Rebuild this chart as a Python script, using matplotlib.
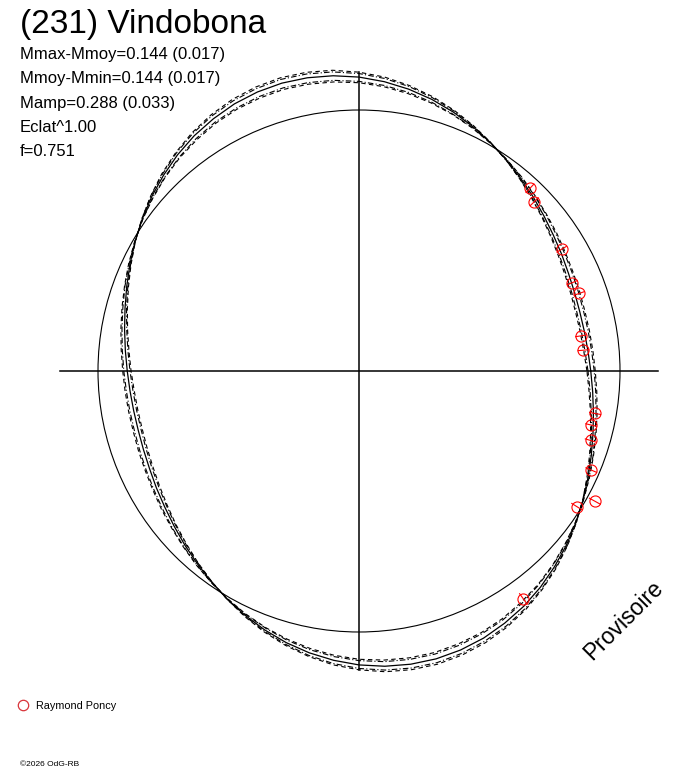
import numpy as np
import matplotlib.pyplot as plt
from matplotlib.patches import Circle

plt.rcParams['font.family'] = ['Liberation Sans', 'DejaVu Sans']

titulo = '(231) Vindobona'
lineas_info = ['Mmax-Mmoy=0.144 (0.017)',
               'Mmoy-Mmin=0.144 (0.017)',
               'Mamp=0.288 (0.033)',
               'Eclat^1.00',
               'f=0.751']
observador = 'Raymond Poncy'
marca = 'Provisoire'
copyright_txt = '\u00a92026 OdG-RB'

# courbe ajustee: angle = phase (deg, pas de 5), ecart en magnitude
fase_curva = np.arange(0, 360, 5)
dm_ajuste = [-0.129, -0.138, -0.143, -0.144, -0.140, -0.132, -0.119, -0.104, -0.085, -0.063, -0.040, -0.015,
             0.010, 0.035, 0.059, 0.081, 0.100, 0.116, 0.129, 0.138, 0.143, 0.144, 0.140, 0.132,
             0.119, 0.104, 0.085, 0.063, 0.040, 0.015, -0.010, -0.035, -0.059, -0.081, -0.100, -0.116,
             -0.129, -0.138, -0.143, -0.144, -0.140, -0.132, -0.119, -0.104, -0.085, -0.063, -0.040, -0.015,
             0.010, 0.035, 0.059, 0.081, 0.100, 0.116, 0.129, 0.138, 0.143, 0.144, 0.140, 0.132,
             0.119, 0.104, 0.085, 0.063, 0.040, 0.015, -0.010, -0.035, -0.059, -0.081, -0.100, -0.116]
dm_ext_a = [-0.147, -0.158, -0.163, -0.164, -0.159, -0.150, -0.136, -0.118, -0.096, -0.072, -0.045, -0.017,
            0.011, 0.040, 0.067, 0.092, 0.114, 0.133, 0.147, 0.158, 0.163, 0.164, 0.159, 0.150,
            0.136, 0.118, 0.096, 0.072, 0.045, 0.017, -0.011, -0.040, -0.067, -0.092, -0.114, -0.133,
            -0.147, -0.158, -0.163, -0.164, -0.159, -0.150, -0.136, -0.118, -0.096, -0.072, -0.045, -0.017,
            0.011, 0.040, 0.067, 0.092, 0.114, 0.133, 0.147, 0.158, 0.163, 0.164, 0.159, 0.150,
            0.136, 0.118, 0.096, 0.072, 0.045, 0.017, -0.011, -0.040, -0.067, -0.092, -0.114, -0.133]
dm_ext_b = [-0.142, -0.152, -0.157, -0.158, -0.153, -0.144, -0.131, -0.114, -0.093, -0.069, -0.044, -0.017,
            0.011, 0.038, 0.064, 0.088, 0.110, 0.128, 0.142, 0.152, 0.157, 0.158, 0.153, 0.144,
            0.131, 0.114, 0.093, 0.069, 0.044, 0.017, -0.011, -0.038, -0.064, -0.088, -0.110, -0.128,
            -0.142, -0.152, -0.157, -0.158, -0.153, -0.144, -0.131, -0.114, -0.093, -0.069, -0.044, -0.017,
            0.011, 0.038, 0.064, 0.088, 0.110, 0.128, 0.142, 0.152, 0.157, 0.158, 0.153, 0.144,
            0.131, 0.114, 0.093, 0.069, 0.044, 0.017, -0.011, -0.038, -0.064, -0.088, -0.110, -0.128]
dm_int_b = [-0.113, -0.121, -0.125, -0.126, -0.122, -0.115, -0.105, -0.091, -0.074, -0.055, -0.035, -0.013,
            0.009, 0.031, 0.051, 0.071, 0.088, 0.102, 0.113, 0.121, 0.125, 0.126, 0.122, 0.115,
            0.105, 0.091, 0.074, 0.055, 0.035, 0.013, -0.009, -0.031, -0.051, -0.071, -0.088, -0.102,
            -0.113, -0.121, -0.125, -0.126, -0.122, -0.115, -0.105, -0.091, -0.074, -0.055, -0.035, -0.013,
            0.009, 0.031, 0.051, 0.071, 0.088, 0.102, 0.113, 0.121, 0.125, 0.126, 0.122, 0.115,
            0.105, 0.091, 0.074, 0.055, 0.035, 0.013, -0.009, -0.031, -0.051, -0.071, -0.088, -0.102]
dm_int_a = [-0.108, -0.115, -0.119, -0.120, -0.116, -0.110, -0.100, -0.086, -0.071, -0.053, -0.033, -0.013,
            0.008, 0.029, 0.049, 0.067, 0.083, 0.097, 0.108, 0.115, 0.119, 0.120, 0.116, 0.110,
            0.100, 0.086, 0.071, 0.053, 0.033, 0.013, -0.008, -0.029, -0.049, -0.067, -0.083, -0.097,
            -0.108, -0.115, -0.119, -0.120, -0.116, -0.110, -0.100, -0.086, -0.071, -0.053, -0.033, -0.013,
            0.008, 0.029, 0.049, 0.067, 0.083, 0.097, 0.108, 0.115, 0.119, 0.120, 0.116, 0.110,
            0.100, 0.086, 0.071, 0.053, 0.033, 0.013, -0.008, -0.029, -0.049, -0.067, -0.083, -0.097]

# observations (Raymond Poncy)
fase_obs = [46.9, 44.0, 31.0, 22.5, 19.4, 9.0, 5.3, -10.2, -13.1, -16.7, -23.1, -31.9, -28.9, -54.2]
dm_obs = [-0.046, -0.075, -0.108, -0.133, -0.121, -0.164, -0.160, -0.092, -0.099, -0.083,
          -0.036, -0.019, 0.034, 0.080]
err_obs = [0.025, 0.025, 0.025, 0.025, 0.025, 0.025, 0.025, 0.025, 0.025, 0.025,
           0.025, 0.025, 0.025, 0.025]


def a_xy(fase, dm):
    r = 10 ** (0.4 * np.asarray(dm))
    t = np.radians(np.asarray(fase))
    return r * np.cos(t), r * np.sin(t)


def cerrar(a):
    a = list(a)
    return a + a[:1]


fig = plt.figure(figsize=(6.88, 7.68), dpi=100)
ax = fig.add_axes([0, 0, 1, 1])
esc = 261.0  # pixels par unite de flux
ax.set_xlim(-359 / esc, 329 / esc)
ax.set_ylim(-397 / esc, 371 / esc)
ax.axis('off')

L = 1.146
ax.plot([-L, L], [0, 0], color='black', lw=1.1)
ax.plot([0, 0], [-L, L], color='black', lw=1.1)

ax.add_patch(Circle((0, 0), 1.0, fill=False, color='black', lw=0.8))

fc = cerrar(fase_curva)
x, y = a_xy(fc, cerrar(dm_ajuste))
ax.plot(x, y, color='black', lw=0.9)
x, y = a_xy(fc, cerrar(dm_ext_a))
ax.plot(x, y, color='black', lw=0.8, ls=(0, (4, 3)))
x, y = a_xy(fc, cerrar(dm_int_a))
ax.plot(x, y, color='black', lw=0.8, ls=(0, (4, 3)))
x, y = a_xy(fc, cerrar(dm_ext_b))
ax.plot(x, y, color='black', lw=0.8, ls=(0, (5, 2, 1, 2)))
x, y = a_xy(fc, cerrar(dm_int_b))
ax.plot(x, y, color='black', lw=0.8, ls=(0, (5, 2, 1, 2)))

# barres d'erreur radiales
for f, d, e in zip(fase_obs, dm_obs, err_obs):
    xb, yb = a_xy([f, f], [d - e, d + e])
    ax.plot(xb, yb, color='red', lw=0.8)
xo, yo = a_xy(fase_obs, dm_obs)
ax.plot(xo, yo, 'o', ms=8, mfc='none', mec='red', mew=0.8)

H = 768.0
fig.text(20 / 688, 1 - 33.5 / H, titulo, fontsize=24, va='baseline', ha='left')
for i, t in enumerate(lineas_info):
    fig.text(20 / 688, 1 - (59 + 24.3 * i) / H, t, fontsize=12, va='baseline', ha='left')

fig.text(624 / 688, 1 - 620 / H, marca, fontsize=16.5, rotation=45,
         ha='center', va='center', rotation_mode='anchor')

fig.lines.append(plt.Line2D([22.5 / 688], [1 - 705 / H], marker='o', ms=7.5, mfc='none',
                            mec='#d9343a', mew=0.9, transform=fig.transFigure))
fig.text(36 / 688, 1 - 709 / H, observador, fontsize=7.8, va='baseline', ha='left')
fig.text(20 / 688, 1 - 766 / H, copyright_txt, fontsize=6, va='baseline', ha='left')

fig.savefig('out.png', dpi=100)
